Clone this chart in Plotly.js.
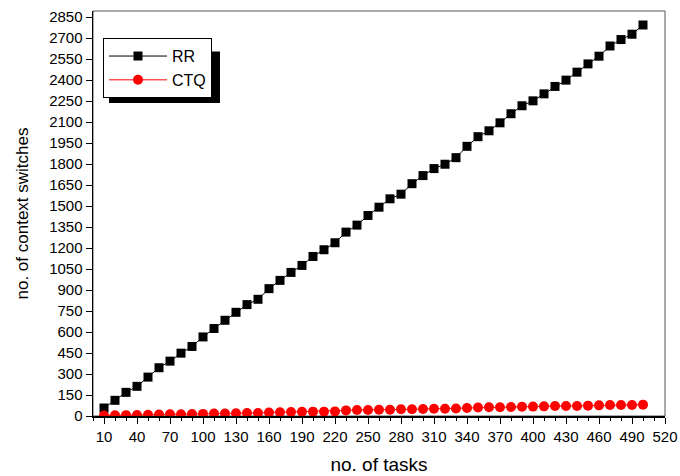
<!DOCTYPE html>
<html>
<head>
<meta charset="utf-8">
<script src="https://cdn.plot.ly/plotly-3.0.1.min.js"></script>
<style>html,body{margin:0;padding:0;background:#fff;}#chart{width:680px;height:476px;}</style>
</head>
<body>
<div id="chart"></div>
<script>
const tasks = [10,20,30,40,50,60,70,80,90,100,110,120,130,140,150,160,170,180,190,200,210,220,230,240,250,260,270,280,290,300,310,320,330,340,350,360,370,380,390,400,410,420,430,440,450,460,470,480,490,500];
const rrSwitches = [57,112,169,212,278,345,392,449,497,565,625,684,741,796,834,910,969,1026,1076,1140,1188,1238,1314,1364,1433,1492,1552,1585,1660,1718,1768,1799,1846,1927,1996,2038,2095,2160,2217,2252,2302,2355,2400,2457,2516,2571,2644,2690,2728,2794];
const ctqSwitches = [4,5,6,7,9,10,12,13,14,15,17,18,20,21,22,25,27,28,30,31,31,33,40,43,43,45,45,48,48,50,52,52,53,57,61,62,62,64,66,67,69,71,71,72,74,76,78,78,79,81];
const xTickVals = [10,40,70,100,130,160,190,220,250,280,310,340,370,400,430,460,490,520];
const yTickVals = [0,150,300,450,600,750,900,1050,1200,1350,1500,1650,1800,1950,2100,2250,2400,2550,2700,2850];

const traces = [
  {x: tasks, y: rrSwitches, name: 'RR', type: 'scatter', mode: 'lines+markers',
   line: {color: '#000000', width: 1}, marker: {symbol: 'square', size: 9, color: '#000000'}},
  {x: tasks, y: ctqSwitches, name: 'CTQ', type: 'scatter', mode: 'lines+markers',
   line: {color: '#ff0000', width: 1}, marker: {symbol: 'circle', size: 10, color: '#ff0000'}}
];

const layout = {
  width: 680, height: 476,
  margin: {l: 93, r: 15, t: 11, b: 60},
  paper_bgcolor: '#ffffff', plot_bgcolor: '#ffffff',
  font: {family: 'Liberation Sans, Arial, sans-serif', color: '#000000'},
  showlegend: true,
  legend: {x: 0.0175, y: 0.933, xanchor: 'left', yanchor: 'top',
    bgcolor: '#ffffff', bordercolor: '#000000', borderwidth: 1,
    itemwidth: 58,
    font: {size: 16, color: '#000000'}, tracegroupgap: 0},
  xaxis: {range: [0, 520], tickmode: 'array', tickvals: xTickVals,
    ticks: 'outside', ticklen: 6, tickwidth: 1, tickcolor: '#000000',
    showgrid: false, zeroline: false, showline: true, linecolor: '#000000', linewidth: 1.5,
    tickfont: {size: 15},
    minor: {tickmode: 'linear', tick0: 0, dtick: 10, ticks: 'outside', ticklen: 3, tickcolor: '#000000', showgrid: false},
    title: {text: 'no. of tasks', font: {size: 19}, standoff: 14}},
  yaxis: {range: [0, 2894], tickmode: 'array', tickvals: yTickVals,
    ticks: 'outside', ticklen: 6, tickwidth: 1, tickcolor: '#000000',
    showgrid: false, zeroline: false, showline: true, linecolor: '#000000', linewidth: 1.5,
    tickfont: {size: 15},
    title: {text: 'no. of context switches', font: {size: 17}, standoff: 16}},
  shapes: [
    {type: 'rect', xref: 'paper', yref: 'paper', x0: 0, x1: 1, y0: 0, y1: 1,
     line: {color: '#555555', width: 1}, layer: 'below'},
    {type: 'rect', xref: 'paper', yref: 'paper', x0: 0.028, x1: 0.222, y0: 0.773, y1: 0.9,
     fillcolor: '#000000', line: {width: 0}, layer: 'above'}
  ]
};

Plotly.newPlot('chart', traces, layout, {displayModeBar: false, staticPlot: true});
</script>
</body>
</html>
